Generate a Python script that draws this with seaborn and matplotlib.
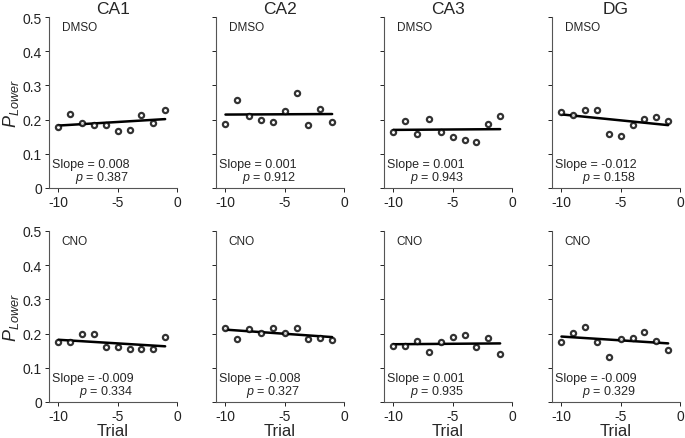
import pandas as pd
import matplotlib
matplotlib.use('Agg')
import matplotlib.pyplot as plt
import seaborn as sns

# Values
trials = [-10, -9, -8, -7, -6, -5, -4, -3, -2, -1]
regions = ['CA1', 'CA2', 'CA3', 'DG']
conditions = ['DMSO', 'CNO']

dmso_ca1 = [0.177, 0.217, 0.189, 0.183, 0.183, 0.168, 0.171, 0.214, 0.189, 0.229]
dmso_ca2 = [0.187, 0.256, 0.210, 0.198, 0.192, 0.226, 0.277, 0.184, 0.231, 0.194]
dmso_ca3 = [0.165, 0.195, 0.159, 0.202, 0.165, 0.150, 0.141, 0.135, 0.187, 0.211]
dmso_dg = [0.223, 0.214, 0.229, 0.229, 0.159, 0.153, 0.184, 0.201, 0.208, 0.195]

cno_ca1 = [0.175, 0.175, 0.200, 0.198, 0.160, 0.160, 0.155, 0.155, 0.155, 0.191]
cno_ca2 = [0.216, 0.185, 0.213, 0.203, 0.216, 0.203, 0.216, 0.185, 0.188, 0.182]
cno_ca3 = [0.163, 0.163, 0.178, 0.145, 0.176, 0.191, 0.197, 0.161, 0.188, 0.139]
cno_dg = [0.176, 0.203, 0.218, 0.176, 0.133, 0.185, 0.188, 0.204, 0.179, 0.152]

slopes_dmso = ['0.008', '0.001', '0.001', '-0.012']
pvals_dmso = ['0.387', '0.912', '0.943', '0.158']
slopes_cno = ['-0.009', '-0.008', '0.001', '-0.009']
pvals_cno = ['0.334', '0.327', '0.935', '0.329']

values = {
    'DMSO': [dmso_ca1, dmso_ca2, dmso_ca3, dmso_dg],
    'CNO': [cno_ca1, cno_ca2, cno_ca3, cno_dg],
}
stats = {
    'DMSO': (slopes_dmso, pvals_dmso),
    'CNO': (slopes_cno, pvals_cno),
}

sns.set_style('ticks')
plt.rcParams['font.family'] = ['Liberation Sans', 'DejaVu Sans']
plt.rcParams['mathtext.fontset'] = 'custom'
plt.rcParams['mathtext.rm'] = 'Liberation Sans'
plt.rcParams['mathtext.it'] = 'Liberation Sans:italic'
plt.rcParams['xtick.direction'] = 'out'
plt.rcParams['ytick.direction'] = 'out'

fig = plt.figure(figsize=(6.85, 4.39), dpi=100)
W, H = 685.0, 439.0
lefts = [49, 216, 384, 552]
axw = 128
row_bottoms = [189, 403]
axh = 171

for r, cond in enumerate(conditions):
    for c, region in enumerate(regions):
        ax = fig.add_axes([lefts[c] / W, 1 - row_bottoms[r] / H, axw / W, axh / H])
        df = pd.DataFrame({'trial': trials, 'p': values[cond][c]})
        sns.regplot(data=df, x='trial', y='p', ax=ax, ci=None,
                    scatter_kws=dict(s=14, facecolors='white', edgecolors='black',
                                     linewidths=1.6, zorder=3),
                    line_kws=dict(color='black', lw=1.8, zorder=2),
                    color='black')
        ax.set_xlim(-10.8, 0)
        ax.set_ylim(0, 0.5)
        ax.set_xticks([-10, -5, 0])
        ax.set_xticklabels(['-10', '-5', '0'], fontsize=10)
        ax.set_yticks([0, 0.1, 0.2, 0.3, 0.4, 0.5])
        if c == 0:
            ax.set_yticklabels(['0', '0.1', '0.2', '0.3', '0.4', '0.5'], fontsize=10)
            ax.set_ylabel(r'$P_{Lower}$', fontsize=13, labelpad=1)
        else:
            ax.set_yticklabels([])
            ax.set_ylabel('')
        if r == 1:
            ax.set_xlabel('Trial', fontsize=12, labelpad=0)
        else:
            ax.set_xlabel('')
            ax.set_title(region, fontsize=12.5, pad=3)
        ax.tick_params(length=3, width=0.7, pad=2, colors='#222222')
        for side in ['left', 'bottom']:
            ax.spines[side].set_linewidth(0.8)
            ax.spines[side].set_color('#555555')
        sns.despine(ax=ax)
        ax.text(0.1, 0.975, cond, transform=ax.transAxes, fontsize=8.5,
                ha='left', va='top')
        slope, pval = stats[cond][0][c], stats[cond][1][c]
        ax.text(0.02, 0.015, f'Slope = {slope}\n$p$ = {pval}', transform=ax.transAxes,
                fontsize=9, ha='left', va='bottom', multialignment='right',
                linespacing=0.95)

fig.savefig('out.png', dpi=100)
